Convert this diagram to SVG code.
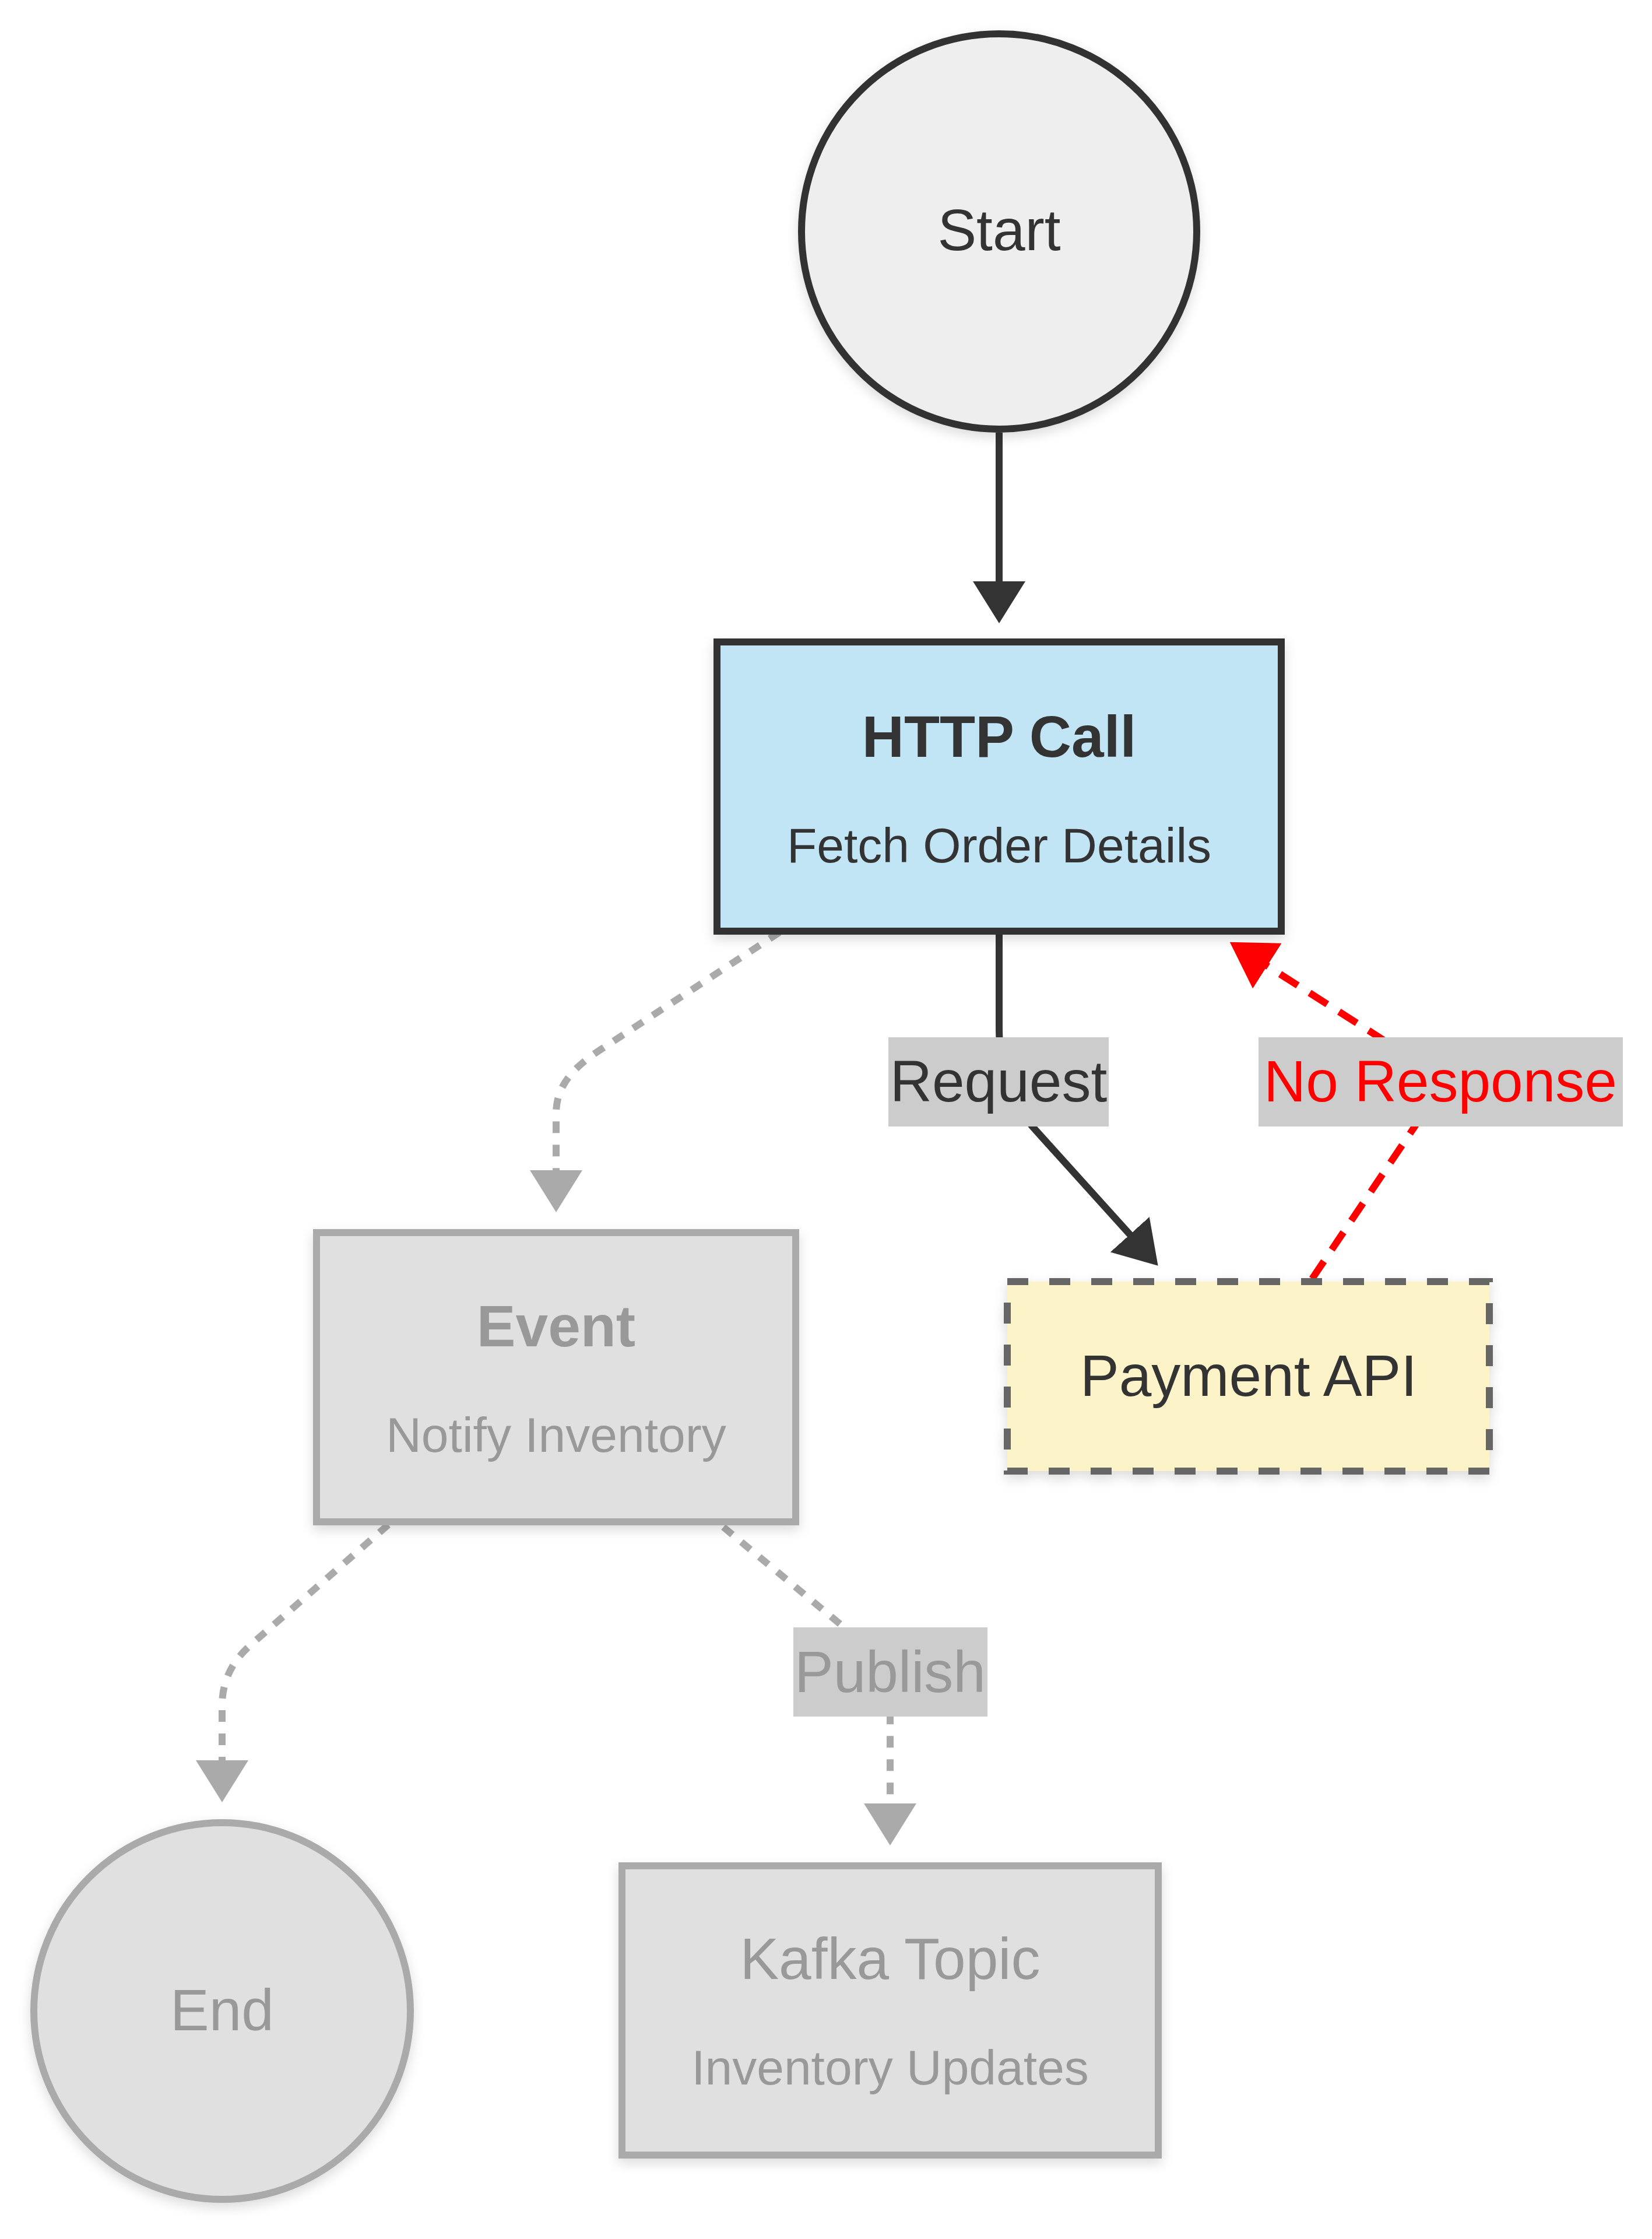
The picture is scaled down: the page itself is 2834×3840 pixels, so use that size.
<svg xmlns="http://www.w3.org/2000/svg" width="2834" height="3840" viewBox="0 0 2834 3840">
<defs>
<filter id="sh" x="-20%" y="-20%" width="140%" height="140%">
<feDropShadow dx="0" dy="8" stdDeviation="10" flood-color="#000" flood-opacity="0.14"/>
</filter>
<marker id="arDark" markerUnits="userSpaceOnUse" viewBox="0 0 72 90" markerWidth="72" markerHeight="90" refX="1" refY="45" orient="auto"><path d="M0,0 L72,45 L0,90 z" fill="#333333"/></marker>
<marker id="arGray" markerUnits="userSpaceOnUse" viewBox="0 0 72 90" markerWidth="72" markerHeight="90" refX="1" refY="45" orient="auto"><path d="M0,0 L72,45 L0,90 z" fill="#aaaaaa"/></marker>
<marker id="arRed" markerUnits="userSpaceOnUse" viewBox="0 0 76 92" markerWidth="76" markerHeight="92" refX="1" refY="46" orient="auto"><path d="M0,0 L76,46 L0,92 z" fill="#ff0000"/></marker>
</defs>
<style>
text{font-family:"Liberation Sans",Arial,Helvetica,sans-serif;text-anchor:middle;}
.t100{font-size:100px;}
.t84{font-size:84px;}
.b{font-weight:bold;}
.dark{fill:#333333;}
.dim{fill:#999999;}
.red{fill:#ff0000;}
.edge{fill:none;stroke-width:12;}
.solid{stroke:#333333;marker-end:url(#arDark);}
.dotted{stroke:#aaaaaa;stroke-dasharray:20 20;marker-end:url(#arGray);}
.dashed{stroke:#ff0000;stroke-dasharray:36 24;marker-end:url(#arRed);}
.lbl{fill:#cccccc;}
.dimnode{fill:#e0e0e0;stroke:#aaaaaa;stroke-width:12;}
</style>
<rect width="2834" height="3840" fill="#ffffff"/>
<g id="connectors">
<path class="edge solid" d="M1714,742 L1714,998"/>
<path class="edge solid" d="M1714,1597 L1714,1760 C1714,1840 1730,1880 1771,1932 L1939,2118"/>
<path class="edge dashed" d="M2251,2193 L2427,1932 C2453,1893 2424,1816 2366,1779 L2173,1656"/>
<path class="edge dotted" d="M1337,1599 L1032,1799 C986,1829 954,1860 954,1910 L954,2008"/>
<path class="edge dotted" d="M666,2615 L429,2822 C401,2847 381,2880 381,2925 L381,3020"/>
<path class="edge dotted" d="M1241,2619 L1448,2791 C1489,2825 1527,2880 1527,2944 L1527,3094"/>
<g id="label-request"><rect class="lbl" x="1524" y="1779" width="378" height="153"/><text class="t100 dark" x="1713" y="1889">Request</text></g>
<g id="label-noresponse"><rect class="lbl" x="2159" y="1779" width="625" height="153"/><text class="t100 red" x="2471" y="1889">No Response</text></g>
<g id="label-publish"><rect class="lbl" x="1361" y="2791" width="333" height="153"/><text class="t100 dim" x="1527" y="2902">Publish</text></g>
</g>
<g id="node-start">
<circle cx="1714" cy="397" r="339" fill="#eeeeee" stroke="#333333" stroke-width="12" filter="url(#sh)"/>
<text class="t100 dark" x="1714" y="429">Start</text>
</g>
<g id="node-http">
<rect x="1230" y="1101" width="968" height="496" fill="#c2e5f5" stroke="#333333" stroke-width="12" filter="url(#sh)"/>
<text class="t100 b dark" x="1714" y="1298">HTTP Call</text>
<text class="t84 dark" x="1714" y="1479">Fetch Order Details</text>
</g>
<g id="node-payment">
<rect x="1728" y="2198" width="827" height="325" fill="#fdf3c9" stroke="#666666" stroke-width="12" stroke-dasharray="36 36" filter="url(#sh)"/>
<text class="t100 dark" x="2142" y="2394">Payment API</text>
</g>
<g id="node-event">
<rect class="dimnode" x="543" y="2114" width="822" height="496" filter="url(#sh)"/>
<text class="t100 b dim" x="954" y="2309">Event</text>
<text class="t84 dim" x="954" y="2490">Notify Inventory</text>
</g>
<g id="node-end">
<circle class="dimnode" cx="381" cy="3449" r="323" filter="url(#sh)"/>
<text class="t100 dim" x="381" y="3482">End</text>
</g>
<g id="node-kafka">
<rect class="dimnode" x="1067" y="3200" width="920" height="496" filter="url(#sh)"/>
<text class="t100 dim" x="1527" y="3394">Kafka Topic</text>
<text class="t84 dim" x="1527" y="3575">Inventory Updates</text>
</g>
</svg>
